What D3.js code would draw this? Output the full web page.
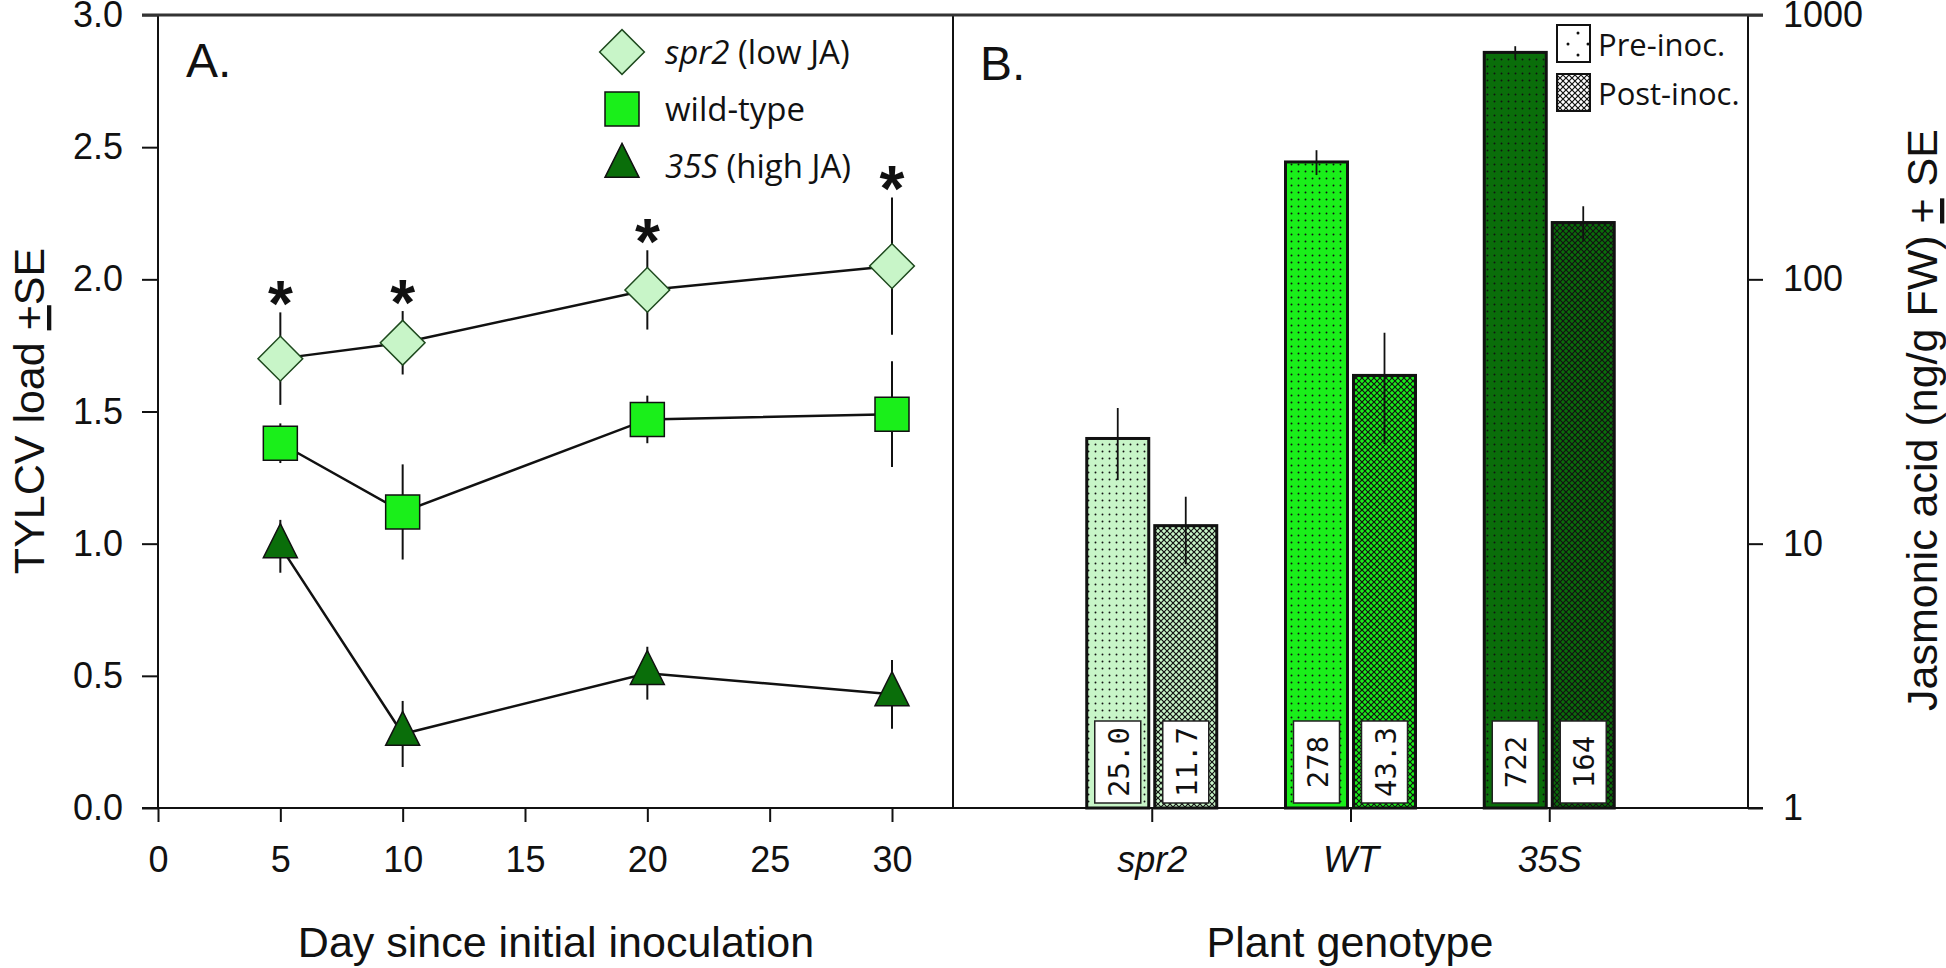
<!DOCTYPE html>
<html><head><meta charset="utf-8">
<script src="https://cdn.jsdelivr.net/npm/d3@7"></script>
<style>body{margin:0;background:#fff;} svg{display:block;}</style>
</head><body>
<svg id="chart" width="1946" height="968"></svg>
<script>
// ---------- Panel A data ----------
const days = [5, 10, 20, 30];
const spr2Load = [1.70, 1.76, 1.96, 2.05];
const spr2SE = [0.175, 0.12, 0.15, 0.26];
const wtLoad = [1.38, 1.12, 1.47, 1.49];
const wtSE = [0.075, 0.18, 0.09, 0.20];
const s35Load = [0.99, 0.28, 0.51, 0.43];
const s35SE = [0.10, 0.125, 0.10, 0.13];
const sigDays = [5, 10, 20, 30];
const xTicksA = [0, 5, 10, 15, 20, 25, 30];
const yTicksA = [0, 0.5, 1.0, 1.5, 2.0, 2.5, 3.0];
const seriesNamesA = ["spr2", "wild-type", "35S"];

// ---------- Panel B data ----------
const genotypes = ["spr2", "WT", "35S"];
const preInoc = [25.0, 278, 722];
const postInoc = [11.7, 43.3, 164];
const preSE = [7.6, 30, 40];
const postSE = [3.35, 19.5, 25];
const preLabels = ["25.0", "278", "722"];
const postLabels = ["11.7", "43.3", "164"];
const logTicks = [1, 10, 100, 1000];
const legendB = ["Pre-inoc.", "Post-inoc."];

// ---------- style ----------
const SANS = "'Liberation Sans', Arial, sans-serif";
const LEG = "'Open Sans', 'Noto Sans', sans-serif";
const MONO = "'DejaVu Sans Mono', 'Liberation Mono', monospace";
const cLight = "#c8f5c8", cBright = "#1aef1a", cDark = "#0a6e0a";
const genoColors = [cLight, cBright, cDark];

const svg = d3.select("#chart");
svg.append("rect").attr("width", 1946).attr("height", 968).attr("fill", "#fff");
const defs = svg.append("defs");

function dotPattern(id, color) {
  const p = defs.append("pattern").attr("id", id).attr("patternUnits", "userSpaceOnUse")
    .attr("width", 7).attr("height", 7);
  p.append("rect").attr("width", 7).attr("height", 7).attr("fill", color);
  p.append("circle").attr("cx", 3.5).attr("cy", 3.5).attr("r", 0.95).attr("fill", "#111");
}
function hatchPattern(id, color) {
  const p = defs.append("pattern").attr("id", id).attr("patternUnits", "userSpaceOnUse")
    .attr("width", 6).attr("height", 6);
  p.append("rect").attr("width", 6).attr("height", 6).attr("fill", color);
  p.append("path").attr("d", "M-1,-1L7,7M7,-1L-1,7").attr("stroke", "#111").attr("stroke-width", 1.2);
}
genoColors.forEach((c, i) => { dotPattern("pre" + i, c); hatchPattern("post" + i, c); });
defs.append("pattern").attr("id", "legPre").attr("patternUnits", "userSpaceOnUse")
  .attr("width", 33).attr("height", 37).attr("x", 1557).attr("y", 25)
  .call(p => {
    p.append("rect").attr("width", 33).attr("height", 37).attr("fill", "#fff");
    [[21, 8], [11, 19], [31, 19], [21, 30]].forEach(d => p.append("circle").attr("cx", d[0]).attr("cy", d[1]).attr("r", 1.5).attr("fill", "#111"));
  });
hatchPattern("legPost", "#fff");

// ---------- scales ----------
const xA = d3.scaleLinear().domain([0, 30]).range([158, 892]);
const yA = d3.scaleLinear().domain([0, 3]).range([808, 15]);
const xB = d3.scaleLinear().domain([0, 4]).range([953, 1748]);
const yB = d3.scaleLog().domain([1, 1000]).range([808, 15]);

function styleAxis(g, fs, italic) {
  g.select(".domain").remove();
  g.selectAll("line").attr("stroke", "#111").attr("stroke-width", 2);
  g.selectAll("text").attr("font-size", fs).attr("font-family", SANS).attr("fill", "#111")
    .attr("font-style", italic ? "italic" : null);
}

// ---------- axes ----------
svg.append("g").attr("transform", "translate(158,0)")
  .call(d3.axisLeft(yA).tickValues(yTicksA).tickFormat(d3.format(".1f")).tickSize(16).tickSizeOuter(0).tickPadding(19))
  .call(g => styleAxis(g, 36));
svg.append("g").attr("transform", "translate(0,808)")
  .call(d3.axisBottom(xA).tickValues(xTicksA).tickSize(14).tickSizeOuter(0).tickPadding(24))
  .call(g => styleAxis(g, 36));
svg.append("g").attr("transform", "translate(0,808)")
  .call(d3.axisBottom(xB).tickValues([1, 2, 3]).tickFormat((d, i) => genotypes[i]).tickSize(14).tickSizeOuter(0).tickPadding(24))
  .call(g => styleAxis(g, 36, true));
svg.append("g").attr("transform", "translate(1748,0)")
  .call(d3.axisRight(yB).tickValues(logTicks).tickFormat(d3.format("d")).tickSize(15).tickSizeOuter(0).tickPadding(20))
  .call(g => styleAxis(g, 36));

// frame
const frame = svg.append("g").attr("stroke", "#111").attr("stroke-width", 2);
frame.append("line").attr("x1", 158).attr("x2", 158).attr("y1", 15).attr("y2", 808);
frame.append("line").attr("x1", 953).attr("x2", 953).attr("y1", 15).attr("y2", 808);
frame.append("line").attr("x1", 1748).attr("x2", 1748).attr("y1", 15).attr("y2", 808);
frame.append("line").attr("x1", 142).attr("x2", 1763).attr("y1", 808).attr("y2", 808);
frame.append("line").attr("x1", 142).attr("x2", 1763).attr("y1", 15).attr("y2", 15).attr("stroke", "#333").attr("stroke-width", 3);

// ---------- Panel A content ----------
const seriesA = [
  { vals: spr2Load, se: spr2SE, color: cLight, shape: "diamond" },
  { vals: wtLoad, se: wtSE, color: cBright, shape: "square" },
  { vals: s35Load, se: s35SE, color: cDark, shape: "triangle" }
];
const triType = { draw(ctx, size) { const w = Math.sqrt(size); const h = w;
  ctx.moveTo(0, -2 * h / 3); ctx.lineTo(w / 2, h / 3); ctx.lineTo(-w / 2, h / 3); ctx.closePath(); } };
function markerPath(shape) {
  if (shape === "diamond") return d3.symbol().type(d3.symbolSquare).size(1000)();
  if (shape === "square") return d3.symbol().type(d3.symbolSquare).size(34 * 34)();
  return d3.symbol().type(triType).size(34 * 34)();
}
function placeMarker(g, shape, color, x, y) {
  g.append("path").attr("d", markerPath(shape))
    .attr("transform", `translate(${x},${y})` + (shape === "diamond" ? " rotate(45)" : ""))
    .attr("fill", color).attr("stroke", shape === "diamond" ? "#1e4a1e" : "#111").attr("stroke-width", 1.5);
}
const gA = svg.append("g");
const line = d3.line().x(d => xA(d[0])).y(d => yA(d[1]));
seriesA.forEach(s => {
  const pts = days.map((d, i) => [d, s.vals[i]]);
  gA.append("path").attr("d", line(pts)).attr("fill", "none").attr("stroke", "#111").attr("stroke-width", 2.5);
  days.forEach((d, i) => {
    gA.append("line").attr("x1", xA(d)).attr("x2", xA(d))
      .attr("y1", yA(s.vals[i] - s.se[i])).attr("y2", yA(s.vals[i] + s.se[i]))
      .attr("stroke", "#111").attr("stroke-width", 2);
  });
});
seriesA.forEach(s => days.forEach((d, i) => placeMarker(gA, s.shape, s.color, xA(d), yA(s.vals[i]))));
// significance asterisks
sigDays.forEach(d => {
  const i = days.indexOf(d);
  const top = yA(spr2Load[i] + spr2SE[i]);
  gA.append("text").attr("x", xA(d)).attr("y", top - 22 + 36).attr("text-anchor", "middle")
    .attr("font-family", SANS).attr("font-weight", "bold").attr("font-size", 64).attr("fill", "#111").text("*");
});
// panel letter
svg.append("text").attr("x", 186).attr("y", 77).attr("font-family", SANS).attr("font-size", 48).attr("fill", "#111").text("A.");
svg.append("text").attr("x", 980).attr("y", 80).attr("font-family", SANS).attr("font-size", 48).attr("fill", "#111").text("B.");

// legend A
const legA = svg.append("g");
const legAy = [52, 109, 166];
seriesA.forEach((s, i) => placeMarker(legA, s.shape, s.color, 622, legAy[i]));
const legText = [["spr2", " (low JA)"], ["", "wild-type"], ["35S", " (high JA)"]];
legText.forEach((t, i) => {
  const tx = legA.append("text").attr("x", 665).attr("y", legAy[i] + 12).attr("font-family", LEG)
    .attr("font-size", 33).attr("fill", "#111");
  if (t[0]) tx.append("tspan").attr("font-style", "italic").text(t[0]);
  tx.append("tspan").text(t[1]);
});

// ---------- Panel B content ----------
const gB = svg.append("g");
genotypes.forEach((g, i) => {
  const cx = xB(i + 1);
  const bars = [
    { v: preInoc[i], se: preSE[i], lab: preLabels[i], x: cx - 65, fill: `url(#pre${i})` },
    { v: postInoc[i], se: postSE[i], lab: postLabels[i], x: cx + 3, fill: `url(#post${i})` }
  ];
  bars.forEach(b => {
    const y = yB(b.v);
    gB.append("rect").attr("x", b.x).attr("y", y).attr("width", 62).attr("height", yB(1) - y)
      .attr("fill", b.fill).attr("stroke", "#111").attr("stroke-width", 3);
    const bc = b.x + 31;
    gB.append("line").attr("x1", bc).attr("x2", bc).attr("y1", yB(b.v - b.se)).attr("y2", yB(b.v + b.se))
      .attr("stroke", "#111").attr("stroke-width", 1.8);
    gB.append("rect").attr("x", bc - 23).attr("y", yB(1) - 87).attr("width", 46).attr("height", 82)
      .attr("fill", "#fff").attr("stroke", "#222").attr("stroke-width", 1.5);
    gB.append("text").attr("transform", `translate(${bc + 1},${yB(1) - 46}) rotate(-90)`)
      .attr("text-anchor", "middle").attr("dominant-baseline", "central")
      .attr("font-family", MONO).attr("font-size", 29).attr("fill", "#111").text(b.lab);
  });
});

// legend B
const legB = svg.append("g");
[["legPre", 25], ["legPost", 74]].forEach((d, i) => {
  legB.append("rect").attr("x", 1557).attr("y", d[1]).attr("width", 33).attr("height", 37)
    .attr("fill", `url(#${d[0]})`).attr("stroke", "#111").attr("stroke-width", 2);
  legB.append("text").attr("x", 1598).attr("y", d[1] + 31).attr("font-family", LEG).attr("font-size", 31)
    .attr("fill", "#111").text(legendB[i]);
});

// ---------- axis titles ----------
svg.append("text").attr("x", 556).attr("y", 957).attr("text-anchor", "middle").attr("font-family", SANS)
  .attr("font-size", 43).attr("fill", "#111").text("Day since initial inoculation");
svg.append("text").attr("x", 1350).attr("y", 957).attr("text-anchor", "middle").attr("font-family", SANS)
  .attr("font-size", 43).attr("fill", "#111").text("Plant genotype");
const yl = svg.append("text").attr("transform", "translate(44,411) rotate(-90)").attr("text-anchor", "middle")
  .attr("font-family", SANS).attr("font-size", 43).attr("fill", "#111");
yl.append("tspan").text("TYLCV load ");
yl.append("tspan").style("text-decoration", "underline").text("+");
yl.append("tspan").text("SE");
const yr = svg.append("text").attr("transform", "translate(1937,420) rotate(-90)").attr("text-anchor", "middle")
  .attr("font-family", SANS).attr("font-size", 43).attr("fill", "#111");
yr.append("tspan").text("Jasmonic acid (ng/g FW) ");
yr.append("tspan").style("text-decoration", "underline").text("+");
yr.append("tspan").text(" SE");
</script>
</body></html>
